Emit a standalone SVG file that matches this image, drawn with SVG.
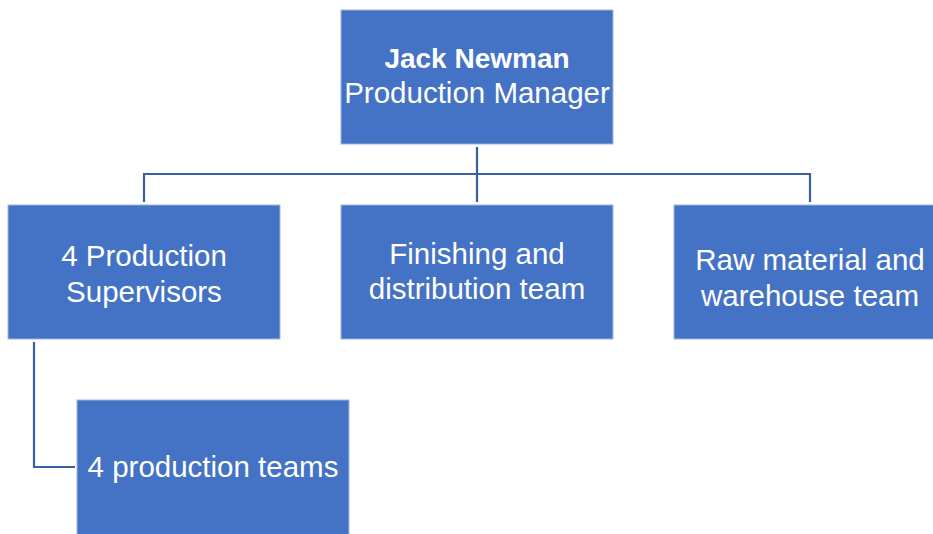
<svg xmlns="http://www.w3.org/2000/svg" width="933" height="534" viewBox="0 0 933 534">
<style>
.box{fill:#4472C4;stroke:#9fb5e0;stroke-width:1}
.lbl{font-family:"Liberation Sans",Arial,sans-serif;font-size:29.5px;fill:#ffffff;text-anchor:middle}
.b{font-weight:bold;font-size:28px}
.con{fill:none;stroke:#3A60A3;stroke-width:2.2}
</style>
<rect width="933" height="534" fill="#ffffff"/>
<g id="connectors">
<path class="con" d="M477 147 V202"/>
<path class="con" d="M144 202 V174 H810 V202"/>
<path class="con" d="M34 342 V467 H75"/>
</g>
<g id="manager">
<rect class="box" x="341" y="10" width="272" height="134"/>
<text class="lbl b" x="477" y="68">Jack Newman</text>
<text class="lbl" x="477" y="103">Production Manager</text>
</g>
<g id="supervisors">
<rect class="box" x="8" y="205" width="272" height="134"/>
<text class="lbl" x="144" y="266">4 Production</text>
<text class="lbl" x="144" y="302">Supervisors</text>
</g>
<g id="finishing">
<rect class="box" x="341" y="205" width="272" height="134"/>
<text class="lbl" x="477" y="264">Finishing and</text>
<text class="lbl" x="477" y="299">distribution team</text>
</g>
<g id="rawmaterial">
<rect class="box" x="674" y="205" width="272" height="134"/>
<text class="lbl" x="810" y="270">Raw material and</text>
<text class="lbl" x="810" y="306">warehouse team</text>
</g>
<g id="teams">
<rect class="box" x="77" y="400" width="272" height="140"/>
<text class="lbl" x="213" y="477">4 production teams</text>
</g>
</svg>
